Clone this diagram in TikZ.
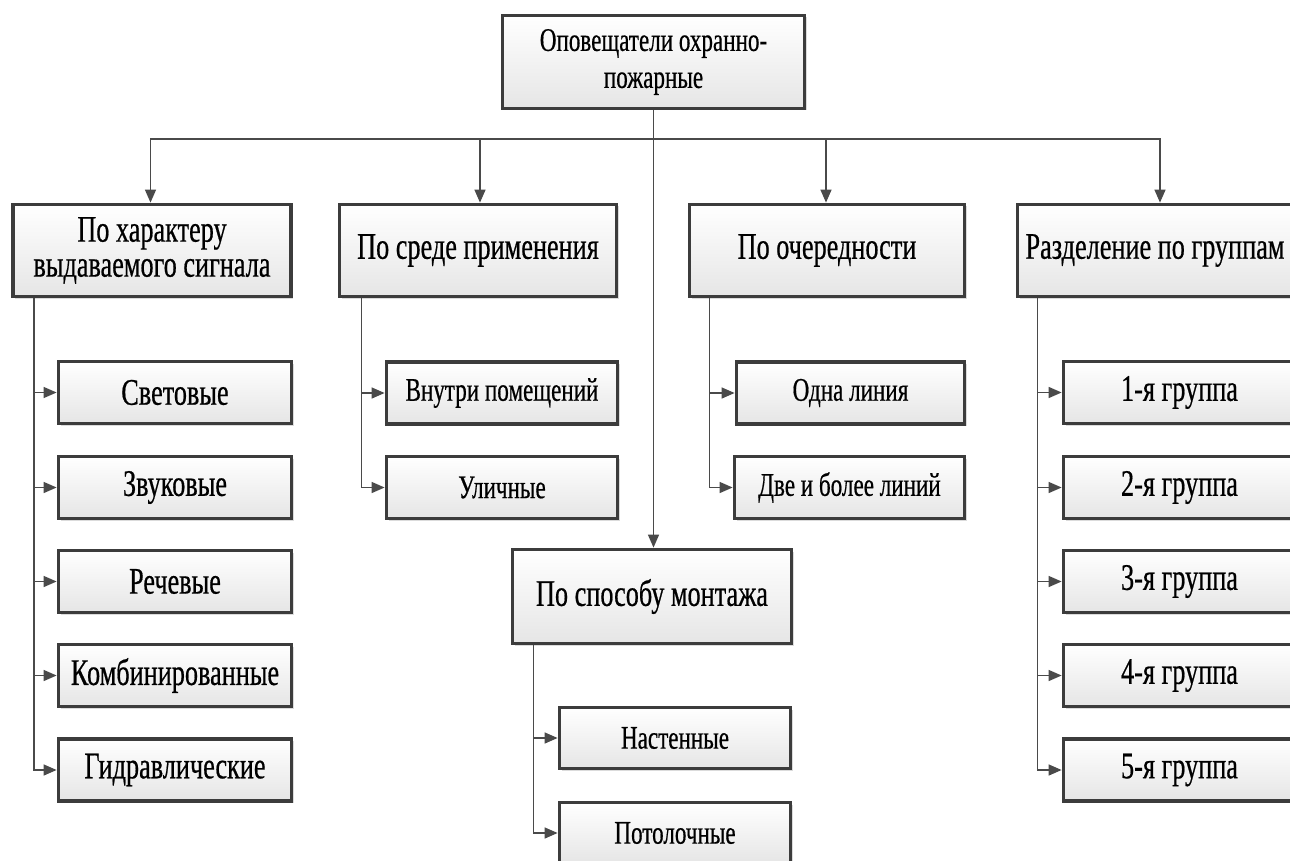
\documentclass[tikz,border=0pt]{standalone}
\usepackage{fontspec}
\setmainfont{Liberation Serif}[FakeStretch=0.7,FakeBold=0.5]
\usetikzlibrary{arrows.meta,shadows}
\definecolor{boxborder}{HTML}{3C3C3C}
\definecolor{conncol}{HTML}{4A4A4A}
\tikzset{
  basebox/.style={draw=boxborder, line width=3.8pt, top color=white, bottom color=black!10,
    inner sep=0pt, align=center, anchor=center,
    drop shadow={shadow xshift=2pt, shadow yshift=-2pt, fill=black!35, opacity=0.4}},
  bigtext/.style={font=\fontsize{37.5}{35}\selectfont},
  smalltext/.style={font=\fontsize{33}{37}\selectfont},
  topbox/.style={basebox, smalltext, minimum width=302pt, minimum height=93pt},
  catbox/.style={basebox, bigtext, minimum width=278pt, minimum height=92pt},
  itembox/.style={basebox, bigtext, minimum width=233pt, minimum height=62pt},
  smallbox/.style={basebox, smalltext, minimum width=231pt, minimum height=62pt},
  conn/.style={draw=conncol, line width=1.4pt, -{Triangle[length=13pt,width=11pt]}},
  plainconn/.style={draw=conncol, line width=1.4pt},
}
\begin{document}
\begin{tikzpicture}[x=1pt,y=-1pt]
\useasboundingbox (0,0) rectangle (1290,861);
\clip (0,0) rectangle (1290,861);
\fill[white] (0,0) rectangle (1290,861);

% top
\node[topbox] (top) at (653.5,62) {Оповещатели охранно-\\пожарные};

% categories
\node[catbox] (b1) at (152,250.5) {По характеру\\выдаваемого сигнала};
\node[catbox, minimum width=277pt] (b2) at (478,250.5) {По среде применения};
\node[catbox, minimum width=275pt] (b3) at (827,250.5) {По очередности};
\node[catbox, minimum width=287pt] (b4) at (1161,250.5) {\hspace*{-12pt}Разделение по группам};
\node[catbox, minimum width=279pt, minimum height=94pt] (b5) at (652,596.5) {По способу монтажа};

% items of b1
\node[itembox] (c11) at (175,392.5) {Световые};
\node[itembox] (c12) at (175,487.5) {Звуковые};
\node[itembox] (c13) at (175,581.5) {Речевые};
\node[itembox] (c14) at (175,675.5) {Комбинированные};
\node[itembox] (c15) at (175,770) {Гидравлические};

% items of b2
\node[smallbox] (c21) at (502,393) {Внутри помещений};
\node[smallbox] (c22) at (502,487.5) {Уличные};

% items of b3
\node[smallbox, minimum width=228pt] (c31) at (850.5,393) {Одна линия};
\node[smallbox, minimum width=230pt] (c32) at (849.5,487.5) {Две и более линий};

% items of b4
\node[itembox, minimum width=237pt] (c41) at (1182,392.5) {\hspace*{-5pt}1-я группа};
\node[itembox, minimum width=237pt] (c42) at (1182,487.5) {\hspace*{-5pt}2-я группа};
\node[itembox, minimum width=237pt] (c43) at (1182,581.5) {\hspace*{-5pt}3-я группа};
\node[itembox, minimum width=237pt] (c44) at (1182,675.5) {\hspace*{-5pt}4-я группа};
\node[itembox, minimum width=237pt] (c45) at (1182,770) {\hspace*{-5pt}5-я группа};

% items of b5
\node[smallbox, minimum height=61pt] (c51) at (675,738) {Настенные};
\node[smallbox, minimum height=61pt] (c52) at (675,833) {Потолочные};

% bus
\coordinate (bus) at (653.5,139);
\draw[plainconn] (top.south) -- (bus);
\draw[conn] (bus) -| ([xshift=-1.5pt]b1.north);
\draw[conn] (bus) -| ([xshift=2pt]b2.north);
\draw[conn] (bus) -| ([xshift=-1pt]b3.north);
\draw[conn] (bus) -| ([xshift=-1pt]b4.north);
\draw[conn] (bus) -- (b5.north -| bus);

% branches
\coordinate (s1) at ([xshift=23pt]b1.south west);
\foreach \c in {c11,c12,c13,c14,c15} \draw[conn] (s1) |- (\c.west);
\coordinate (s2) at ([xshift=24pt]b2.south west);
\foreach \c in {c21,c22} \draw[conn] (s2) |- (\c.west);
\coordinate (s3) at ([xshift=22pt]b3.south west);
\foreach \c in {c31,c32} \draw[conn] (s3) |- (\c.west);
\coordinate (s4) at ([xshift=22pt]b4.south west);
\foreach \c in {c41,c42,c43,c44,c45} \draw[conn] (s4) |- (\c.west);
\coordinate (s5) at ([xshift=23pt]b5.south west);
\foreach \c in {c51,c52} \draw[conn] (s5) |- (\c.west);
\end{tikzpicture}
\end{document}
